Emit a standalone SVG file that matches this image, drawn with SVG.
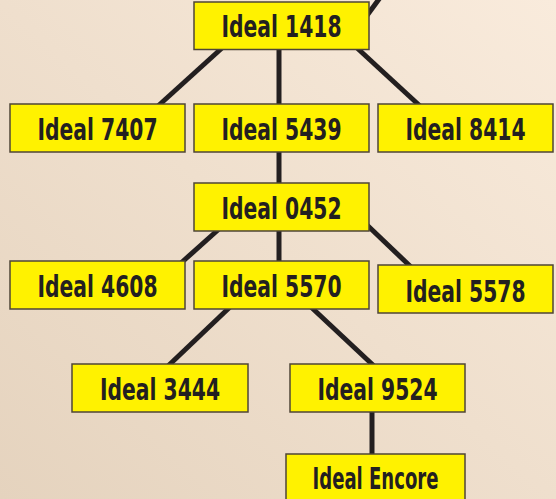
<svg xmlns="http://www.w3.org/2000/svg" width="556" height="499" viewBox="0 0 556 499">
<defs>
<linearGradient id="bg" x1="0" y1="1" x2="1" y2="0">
<stop offset="0" stop-color="#e5d3be"/>
<stop offset="1" stop-color="#f9ebdc"/>
</linearGradient>
</defs>
<style>
.box{fill:#fff200;stroke:#4f4537;stroke-width:1.5}
.lbl{font-family:"Liberation Sans Narrow","DejaVu Sans Condensed","Liberation Sans",sans-serif;font-weight:bold;font-size:30px;fill:#231f20;text-anchor:middle}
.edge{stroke:#231f20;stroke-width:5;fill:none}
</style>
<rect x="0" y="0" width="556" height="499" fill="url(#bg)"/>
<g id="connectors">
<line class="edge" x1="360" y1="25" x2="382" y2="-5"/>
<line class="edge" x1="222" y1="48" x2="158" y2="106"/>
<line class="edge" x1="279" y1="48" x2="279" y2="106"/>
<line class="edge" x1="356" y1="47" x2="420" y2="106"/>
<line class="edge" x1="279" y1="150" x2="279" y2="185"/>
<line class="edge" x1="219" y1="229" x2="181" y2="263"/>
<line class="edge" x1="279" y1="229" x2="279" y2="263"/>
<line class="edge" x1="367" y1="225" x2="411" y2="267"/>
<line class="edge" x1="230" y1="307" x2="168" y2="366"/>
<line class="edge" x1="311" y1="307" x2="374" y2="366"/>
<line class="edge" x1="372" y1="410" x2="372" y2="456"/>
</g>
<g id="n1418"><rect class="box" x="194" y="2" width="175" height="47.5"/><text class="lbl" x="281.5" y="37" textLength="120" lengthAdjust="spacingAndGlyphs">Ideal 1418</text></g>
<g id="n7407"><rect class="box" x="10" y="104" width="175" height="48"/><text class="lbl" x="97.5" y="140" textLength="120" lengthAdjust="spacingAndGlyphs">Ideal 7407</text></g>
<g id="n5439"><rect class="box" x="194" y="104" width="175" height="48"/><text class="lbl" x="281.5" y="140" textLength="120" lengthAdjust="spacingAndGlyphs">Ideal 5439</text></g>
<g id="n8414"><rect class="box" x="378" y="104" width="175" height="48"/><text class="lbl" x="465.5" y="140" textLength="120" lengthAdjust="spacingAndGlyphs">Ideal 8414</text></g>
<g id="n0452"><rect class="box" x="194" y="183" width="175" height="48"/><text class="lbl" x="281.5" y="218.5" textLength="120" lengthAdjust="spacingAndGlyphs">Ideal 0452</text></g>
<g id="n4608"><rect class="box" x="10" y="261" width="175" height="48"/><text class="lbl" x="97.5" y="297" textLength="120" lengthAdjust="spacingAndGlyphs">Ideal 4608</text></g>
<g id="n5570"><rect class="box" x="194" y="261" width="175" height="48"/><text class="lbl" x="281.5" y="297" textLength="120" lengthAdjust="spacingAndGlyphs">Ideal 5570</text></g>
<g id="n5578"><rect class="box" x="378" y="265" width="175" height="48"/><text class="lbl" x="465.5" y="301.5" textLength="120" lengthAdjust="spacingAndGlyphs">Ideal 5578</text></g>
<g id="n3444"><rect class="box" x="72" y="364" width="176" height="48"/><text class="lbl" x="160" y="400" textLength="120" lengthAdjust="spacingAndGlyphs">Ideal 3444</text></g>
<g id="n9524"><rect class="box" x="290" y="364" width="175" height="48"/><text class="lbl" x="377.5" y="400" textLength="120" lengthAdjust="spacingAndGlyphs">Ideal 9524</text></g>
<g id="nEncore"><rect class="box" x="286" y="454" width="179" height="50"/><text class="lbl" x="375.5" y="488.5" textLength="126" lengthAdjust="spacingAndGlyphs">Ideal Encore</text></g>
</svg>
